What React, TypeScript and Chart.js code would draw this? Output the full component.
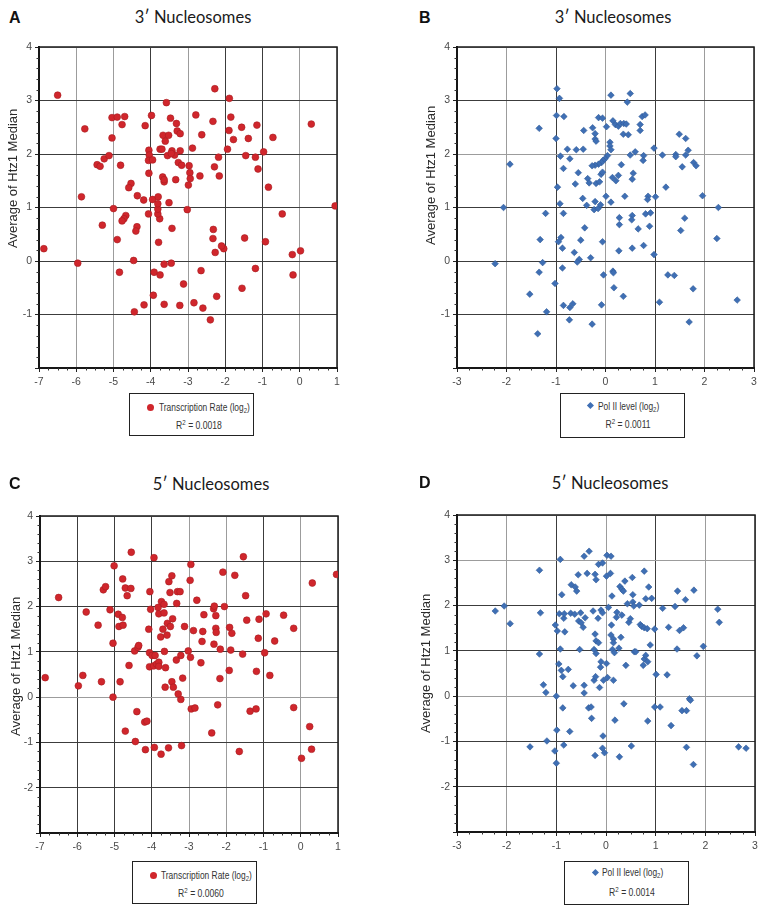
import React, { useEffect, useRef } from 'react';
import { Chart, registerables } from 'chart.js';

Chart.register(...registerables);

// ---------------- DATA ----------------
// Panel A: 3' nucleosomes vs transcription rate
const aX = [
  -6.87, -6.5, -5.77, -5.86, -5.96, -5.44, -5.36, -5.25, -5.12, -5.04,
  -4.9, -4.7, -4.77, -5.04, -4.81, -5.0, -5.3, -4.9, -4.84, -4.53,
  -4.59, -4.67, -4.72, -4.77, -4.37, -4.4, -4.36, -4.19, -4.15, -3.98,
  -4.05, -4.04, -4.06, -3.95, -4.05, -3.95, -4.06, -4.46, -4.44, -4.18,
  -3.93, -3.91, -3.75, -3.64, -3.64, -3.45, -3.22, -3.12, -2.84, -2.6,
  -2.4, -2.23, -2.65, -1.55, -1.19, -0.18, -0.2, 0.02, -0.92, -1.48,
  -2.04, -2.1, -2.27, -2.33, -2.32, -3.43, -3.79, -3.76, -3.81, -3.81,
  -3.81, -3.8, -3.51, -3.02, -0.47, 0.95, -0.84, -1.12, -1.19, -1.45,
  -0.97, -0.72, -1.38, -1.56, -1.15, -1.78, -1.9, -1.85, -1.89, -2.28,
  -2.33, -1.94, -2.18, -2.29, -2.16, -2.68, -2.63, -2.79, -2.88, -2.97,
  -2.95, -2.94, -2.99, 0.31, -3.58, -3.47, -3.31, -3.29, -3.21, -3.67,
  -3.52, -3.61, -3.75, -3.7, -3.55, -3.43, -3.36, -3.21, -3.45, -3.26,
  -3.17, -3.33, -3.68, -3.64, -3.64,
];
const aY = [
  0.23, 3.1, 2.47, 1.2, -0.04, 1.8, 1.77, 1.91, 1.97, 2.68,
  2.69, 2.7, 2.55, 2.3, 1.79, 0.98, 0.67, 0.4, -0.21, 1.45,
  1.37, 0.85, 0.79, 0.75, 0.64, 0.56, 1.22, 1.14, 2.53, 2.72,
  2.07, 1.98, 1.88, 1.89, 1.64, 1.15, 0.88, 0.01, -0.95, -0.82,
  -0.64, -0.21, -0.26, -0.06, -0.81, -0.04, -0.83, -0.43, -0.78, -0.88,
  -1.1, -0.66, -0.18, -0.51, -0.14, -0.26, 0.12, 0.19, 0.36, 0.43,
  0.23, 0.28, 0.16, 0.42, 0.59, 0.61, 0.35, 0.79, 0.88, 0.97,
  1.07, 1.2, 1.09, 0.96, 0.88, 1.03, 1.38, 1.72, 1.94, 1.97,
  2.04, 2.31, 2.29, 2.5, 2.54, 2.27, 2.44, 2.69, 3.04, 3.22,
  2.61, 2.09, 1.94, 1.76, 1.59, 1.59, 2.36, 2.73, 2.11, 1.78,
  1.65, 1.54, 1.42, 2.56, 2.96, 2.67, 2.57, 2.43, 2.38, 2.35,
  2.35, 2.24, 2.09, 2.09, 1.97, 2.06, 1.98, 2.06, 2.01, 1.84,
  1.79, 1.52, 1.57, 1.48, 1.52,
];

// Panel B: 3' nucleosomes vs Pol II level
const bX = [
  -2.23, -2.06, -1.93, -1.34, -1.21, -1.32, -1.27, -1.34, -1.53, -1.19,
  -1.37, -0.98, -0.93, -0.99, -0.84, -1.0, -0.77, -0.91, -0.72, -0.85,
  -0.97, -0.92, -0.85, -0.9, -0.95, -0.87, -1.02, -0.87, -0.85, -0.72,
  -0.66, -0.73, -0.59, -0.45, -0.44, -0.55, -0.61, -0.46, -0.38, -0.42,
  -0.5, -0.63, -0.53, -0.57, -0.3, -0.27, -0.08, -0.04, -0.06, -0.36,
  -0.33, -0.26, -0.21, -0.21, -0.19, -0.14, -0.06, 0.02, 0.11, 0.09,
  0.09, 0.11, 0.04, -0.01, -0.05, -0.08, -0.14, -0.21, -0.27, -0.19,
  -0.12, -0.09, -0.06, 0.01, -0.23, -0.15, -0.1, -0.21, 0.11, 0.14,
  0.21, 0.26, 0.32, 0.15, 0.2, 0.26, 0.3, 0.37, 0.42, 0.36,
  0.46, 0.44, 0.5, 0.5, 0.6, 0.56, 0.54, 0.54, 0.53, 0.66,
  0.54, 0.28, 0.28, 0.27, 0.39, 0.15, 0.16, 0.17, 0.36, 0.7,
  0.7, 0.74, 0.8, 0.77, 0.76, 0.98, 1.15, 1.22, 1.01, 0.86,
  0.85, 0.81, 0.91, 0.89, 0.77, 0.98, 1.09, 1.26, 1.39, 1.42,
  1.42, 1.49, 1.62, 1.55, 1.62, 1.67, 1.78, 1.83, 1.96, 1.6,
  1.52, 2.28, 2.25, 1.77, 1.69, 2.66,
];
const bY = [
  -0.05, 1.0, 1.81, 2.48, 0.89, 0.4, -0.03, -0.21, -0.62, -0.95,
  -1.36, 3.22, 3.04, 2.72, 2.7, 2.29, 2.09, 1.96, 1.91, 1.73,
  1.38, 1.07, 0.89, 0.44, 0.36, 0.24, -0.42, -0.13, -0.83, -0.87,
  -0.8, -1.1, 2.08, 2.09, 2.44, 1.65, 1.44, 1.17, 1.04, 0.62,
  0.39, 0.16, 0.03, -0.02, 0.06, -1.18, -0.82, -0.26, 0.36, 1.54,
  1.46, 2.49, 2.38, 2.28, 2.24, 2.68, 2.67, 2.51, 3.1, 2.22,
  2.15, 2.08, 1.97, 1.91, 1.88, 1.84, 1.81, 1.79, 1.78, 1.45,
  1.48, 1.62, 1.66, 1.21, 0.96, 0.98, 1.05, 1.11, 1.1, 1.56,
  1.5, 1.6, 1.8, 2.62, 2.55, 2.52, 2.57, 2.57, 2.56, 2.37,
  2.36, 2.97, 3.13, 1.98, 2.04, 1.64, 1.53, 0.85, 0.77, 0.6,
  0.24, 0.81, 0.68, 0.19, 1.21, -0.19, -0.22, -0.5, -0.66, 2.55,
  2.44, 2.7, 2.73, 1.97, 1.88, 2.11, 1.98, 1.38, 1.2, 1.21,
  1.15, 0.88, 0.9, 0.65, 0.29, 0.12, -0.77, -0.26, -0.27, 1.99,
  1.95, 2.37, 2.29, 1.76, 1.98, 2.07, 1.84, 1.78, 1.22, 0.8,
  0.57, 1.0, 0.42, -0.52, -1.14, -0.73,
];

// Panel C: 5' nucleosomes vs transcription rate
const cX = [
  -6.86, -6.5, -5.85, -5.97, -5.76, -5.44, -5.35, -5.3, -5.24, -5.12,
  -5.01, -5.04, -5.04, -4.9, -4.79, -4.88, -4.77, -4.78, -4.71, -4.66,
  -4.55, -4.56, -4.61, -4.85, -4.71, -4.44, -4.46, -4.37, -4.35, -4.4,
  -4.19, -4.13, -4.17, -3.94, -4.05, -4.03, -4.08, -4.06, -3.99, -3.91,
  -4.06, -3.95, -3.87, -3.81, -3.81, -3.66, -3.63, -3.64, -3.93, -3.75,
  -3.55, -3.2, -3.22, -3.29, -3.46, -3.42, -3.17, -3.22, -3.34, -3.02,
  -2.96, -3.12, -2.88, -3.83, -3.81, -3.74, -3.67, -3.67, -3.76, -3.7,
  -3.58, -3.59, -3.5, -3.44, -3.54, -3.46, -3.51, -3.33, -3.31, -3.24,
  -2.95, -2.97, -2.79, -2.6, -2.63, -2.65, -2.68, -2.94, -2.84, -2.34,
  -2.32, -2.28, -2.28, -2.27, -2.33, -2.16, -2.17, -2.23, -2.39, -2.09,
  -2.05, -1.91, -1.85, -1.88, -1.92, -1.65, -1.77, -1.54, -1.48, -1.45,
  -1.56, -1.36, -1.2, -1.19, -1.14, -1.12, -0.93, -0.97, -0.83, -0.7,
  -0.46, -0.19, -0.19, 0.02, 0.24, 0.29, 0.31, 0.96,
];
const cY = [
  0.43, 2.2, 0.48, 0.25, 1.88, 1.59, 0.34, 2.37, 2.44, 1.93,
  2.9, 1.19, 0.0, 1.83, 1.76, 1.56, 1.59, 2.61, 2.41, 2.24,
  3.2, 2.4, 0.7, 0.34, -0.75, -0.98, 1.02, 1.1, 1.14, -0.32,
  -0.55, -0.53, -1.16, 3.08, 2.33, 1.94, 1.5, 0.98, 0.92, 0.92,
  0.67, 0.69, 0.73, 0.77, 0.68, 1.01, 0.65, 0.22, -1.11, -1.26,
  -1.12, -1.07, -0.05, 0.07, 0.34, 0.22, 0.42, 0.92, 0.82, 1.02,
  0.88, 1.56, 1.47, 1.98, 1.84, 2.11, 2.05, 1.86, 1.33, 1.5,
  1.63, 1.37, 1.56, 1.73, 2.55, 2.68, 2.31, 2.07, 2.33, 2.33,
  2.93, 2.58, 2.14, 1.82, 1.45, 1.23, 0.76, -0.26, -0.24, 1.95,
  2.01, 1.8, 1.52, 1.43, 1.17, 1.06, 0.41, -0.17, -0.79, 2.76,
  2.0, 1.54, 1.41, 1.04, 0.59, -1.2, 2.69, 3.1, 2.24, 1.7,
  0.95, -0.31, -0.26, 0.57, 1.3, 1.72, 1.84, 0.98, 0.48, 1.24,
  1.81, 1.52, -0.23, -1.35, -0.65, -1.15, 2.52, 2.71,
];

// Panel D: 5' nucleosomes vs Pol II level
const dX = [
  -2.23, -2.05, -1.93, -1.53, -1.34, -1.32, -1.34, -1.26, -1.21, -1.19,
  -1.03, -1.0, -0.99, -1.0, -1.02, -0.98, -0.94, -0.92, -0.89, -0.85,
  -0.84, -0.83, -0.92, -0.95, -0.9, -0.87, -0.87, -0.85, -0.73, -0.76,
  -0.66, -0.7, -0.62, -0.59, -0.56, -0.71, -0.63, -0.51, -0.55, -0.5,
  -0.46, -0.42, -0.53, -0.44, -0.38, -0.34, -0.44, -0.44, -0.35, -0.3,
  -0.29, -0.26, -0.24, -0.21, -0.24, -0.2, -0.22, -0.2, -0.15, -0.22,
  -0.2, -0.15, -0.07, -0.16, -0.1, -0.07, -0.1, -0.11, -0.13, -0.05,
  0.01, 0.03, -0.06, -0.07, -0.03, -0.22, 0.02, 0.1, 0.01, 0.09,
  0.12, 0.05, 0.11, 0.1, 0.15, 0.15, 0.13, 0.17, 0.15, 0.27,
  0.18, 0.22, 0.21, 0.26, 0.3, 0.28, 0.32, 0.35, 0.32, 0.38,
  0.4, 0.36, 0.43, 0.46, 0.49, 0.51, 0.53, 0.54, 0.54, 0.56,
  0.57, 0.6, 0.67, 0.69, 0.72, 0.77, 0.83, 0.77, 0.8, 0.86,
  0.92, 0.75, 0.77, 0.8, 0.84, 0.89, 0.84, 0.98, 1.01, 0.98,
  1.09, 1.14, 1.26, 1.23, 1.31, 1.39, 1.44, 1.43, 1.48, 1.53,
  1.56, 1.6, 1.62, 1.62, 1.68, 1.7, 1.77, 1.76, 1.83, 1.96,
  2.25, 2.28, 2.67, 2.82,
];
const dY = [
  1.88, 1.99, 1.6, -1.12, 2.78, 1.84, 0.93, 0.25, 0.08, -0.99,
  -1.21, -1.48, -0.75, 0.0, 1.57, 1.44, 1.82, 3.02, 2.24, 1.72,
  1.82, 1.42, 1.04, 0.71, 0.57, 0.43, -0.26, -1.08, -0.78, 0.59,
  0.23, 2.46, 2.41, 2.32, 2.68, 1.83, 1.81, 1.84, 1.66, 1.62,
  1.52, 1.73, 1.03, 3.09, 2.71, 3.2, 0.24, 0.07, -0.26, -0.24,
  -0.49, 1.88, 0.35, 0.43, 1.03, 0.94, 1.37, 1.22, 1.18, 2.69,
  2.57, 2.91, 2.94, 1.72, 1.9, 1.84, 0.76, 0.64, 0.19, 0.35,
  0.72, 0.41, -0.88, -1.15, -1.25, -1.31, 3.11, 3.09, 2.65, 2.71,
  2.21, 1.96, 1.57, 1.35, 1.26, 1.18, 1.03, 0.96, 0.35, -1.34,
  -0.53, 1.85, 1.74, 1.06, 1.3, 2.42, 2.36, 2.32, 1.79, 2.54,
  0.68, -0.17, 2.04, 1.63, 1.71, -1.1, 2.62, 2.24, 2.08, 1.99,
  0.98, 0.98, 2.01, 1.58, 1.54, 1.51, 1.49, 2.76, 2.15, 2.41,
  2.16, 0.68, 0.82, 0.9, 0.76, 1.13, -0.55, 1.48, 0.48, -0.24,
  -0.24, 1.94, 1.52, 0.47, -0.65, 1.98, 2.32, 1.04, 1.45, -0.32,
  1.51, 2.13, -0.32, -1.13, -0.06, -0.09, 2.34, -1.51, 0.89, 1.1,
  1.92, 1.63, -1.12, -1.15,
];

// Axis tick values
const xTicksRate = [-7, -6, -5, -4, -3, -2, -1, 0, 1];
const xTicksPol = [-3, -2, -1, 0, 1, 2, 3];
const yTicks3 = [-2, -1, 0, 1, 2, 3, 4];
const yTicks5 = [-3, -2, -1, 0, 1, 2, 3, 4];

// Texts
const titles = ['3\u2032 Nucleosomes', '3\u2032 Nucleosomes', '5\u2032 Nucleosomes', '5\u2032 Nucleosomes'];
const letters = ['A', 'B', 'C', 'D'];
const legendNames = ['Transcription Rate (log', 'Pol II level (log', 'Transcription Rate (log', 'Pol II level (log'];
const rSquared = ['0.0018', '0.0011', '0.0060', '0.0014'];
const yTitle = 'Average of Htz1 Median';

// ---------------- STYLE ----------------
const RED = '#d0262c';
const RED_EDGE = '#a81c20';
const BLUE = '#3f6fb4';
const BLUE_EDGE = '#2f5a99';
const DARK = '#3c3c3c';
const LIGHT = '#9c9c9c';
const TICK_FONT = "'Liberation Sans', Arial, Helvetica, sans-serif";

const Y_AXIS_W = 38;
const PAD_TOP = 12;
const PAD_RIGHT = 14;
const X_AXIS_H = 24;

type PanelCfg = {
  xs: number[];
  ys: number[];
  xTicks: number[];
  yTicks: number[];
  red: boolean;
  plot: { l: number; t: number; r: number; b: number };
  darkX: number[];
  darkY: number[];
};

const panels: PanelCfg[] = [
  { xs: aX, ys: aY, xTicks: xTicksRate, yTicks: yTicks3, red: true,
    plot: { l: 39, t: 47, r: 337, b: 368 }, darkX: [-4, -2, -1], darkY: [3, 2, 1, 0, -1] },
  { xs: bX, ys: bY, xTicks: xTicksPol, yTicks: yTicks3, red: false,
    plot: { l: 457, t: 47, r: 754, b: 368 }, darkX: [-1, 1], darkY: [3, 1, 0, -1] },
  { xs: cX, ys: cY, xTicks: xTicksRate, yTicks: yTicks5, red: true,
    plot: { l: 40, t: 516, r: 338, b: 833 }, darkX: [-6, -5, -4, -1], darkY: [3, 2, 1, -1, -2] },
  { xs: dX, ys: dY, xTicks: xTicksPol, yTicks: yTicks5, red: false,
    plot: { l: 457, t: 515, r: 755, b: 832 }, darkX: [-1, 1], darkY: [2, 1, -1, -2] },
];

const framePlugin = {
  id: 'frameAndMinor',
  beforeDatasetsDraw(chart: any) {
    const { ctx, chartArea: a, scales } = chart;
    ctx.save();
    ctx.strokeStyle = '#1a1a1a';
    ctx.lineWidth = 1.5;
    ctx.strokeRect(a.left, a.top, a.right - a.left, a.bottom - a.top);
    // minor ticks
    ctx.lineWidth = 1;
    ctx.strokeStyle = '#333';
    const ys = scales.y;
    for (let v = ys.min; v < ys.max - 1e-9; v += 0.2) {
      if (Math.abs(v - Math.round(v)) < 1e-6) continue;
      const p = Math.round(ys.getPixelForValue(v)) + 0.5;
      ctx.beginPath();
      ctx.moveTo(a.left - 2.5, p);
      ctx.lineTo(a.left, p);
      ctx.stroke();
    }
    const xs = scales.x;
    for (let v = xs.min; v < xs.max - 1e-9; v += 0.25) {
      if (Math.abs(v - Math.round(v)) < 1e-6) continue;
      const p = Math.round(xs.getPixelForValue(v)) + 0.5;
      ctx.beginPath();
      ctx.moveTo(p, a.bottom);
      ctx.lineTo(p, a.bottom + 2.5);
      ctx.stroke();
    }
    ctx.restore();
  },
};

function ScatterPanel({ cfg }: { cfg: PanelCfg }) {
  const ref = useRef<HTMLCanvasElement>(null);
  const left = cfg.plot.l - Y_AXIS_W;
  const top = cfg.plot.t - PAD_TOP;
  const width = cfg.plot.r - left + PAD_RIGHT;
  const height = cfg.plot.b - top + X_AXIS_H;

  useEffect(() => {
    if (!ref.current) return;
    const pts = cfg.xs.map((x, i) => ({ x, y: cfg.ys[i] }));
    const xMin = cfg.xTicks[0];
    const xMax = cfg.xTicks[cfg.xTicks.length - 1];
    const yMin = cfg.yTicks[0];
    const yMax = cfg.yTicks[cfg.yTicks.length - 1];
    const chart = new Chart(ref.current, {
      type: 'scatter',
      data: {
        datasets: [
          {
            data: pts,
            pointStyle: cfg.red ? 'circle' : 'rectRot',
            pointRadius: cfg.red ? 3.4 : 3.3,
            backgroundColor: cfg.red ? RED : BLUE,
            borderColor: cfg.red ? RED_EDGE : BLUE_EDGE,
            borderWidth: 0.6,
          },
        ],
      },
      options: {
        animation: false,
        responsive: false,
        maintainAspectRatio: false,
        layout: { padding: { top: PAD_TOP, right: PAD_RIGHT, left: 0, bottom: 0 } },
        plugins: { legend: { display: false }, tooltip: { enabled: false }, title: { display: false } },
        scales: {
          x: {
            type: 'linear',
            min: xMin,
            max: xMax,
            afterBuildTicks: (axis: any) => {
              axis.ticks = cfg.xTicks.map((v) => ({ value: v }));
            },
            afterFit: (axis: any) => {
              axis.height = X_AXIS_H;
            },
            grid: {
              color: (c: any) => (cfg.darkX.includes(c.tick?.value) ? DARK : LIGHT),
              lineWidth: 1,
              tickLength: 4,
              tickColor: '#222',
            },
            border: { color: '#111', width: 2 },
            ticks: {
              color: '#4a4a4a',
              font: { family: TICK_FONT, size: 10.5 },
              padding: 4,
              maxRotation: 0,
              autoSkip: false,
              callback: (v: any) => String(v),
            },
          },
          y: {
            type: 'linear',
            min: yMin,
            max: yMax,
            afterBuildTicks: (axis: any) => {
              axis.ticks = cfg.yTicks.map((v) => ({ value: v }));
            },
            afterFit: (axis: any) => {
              axis.width = Y_AXIS_W;
            },
            grid: {
              color: (c: any) => (cfg.darkY.includes(c.tick?.value) ? DARK : LIGHT),
              lineWidth: 1,
              tickLength: 4,
              tickColor: '#222',
            },
            border: { color: '#111', width: 2 },
            ticks: {
              color: '#4a4a4a',
              font: { family: TICK_FONT, size: 10.5 },
              padding: 3,
              autoSkip: false,
              callback: (v: any) => (v === yMin ? '' : String(v)),
            },
          },
        },
      },
      plugins: [framePlugin],
    });
    return () => chart.destroy();
  }, [cfg]);

  return (
    <canvas
      ref={ref}
      width={width}
      height={height}
      style={{ position: 'absolute', left, top, width, height }}
    />
  );
}

type TextPos = { x: number; y: number };
const letterPos: TextPos[] = [
  { x: 9, y: 18 }, { x: 419, y: 18 }, { x: 9, y: 484 }, { x: 419, y: 483 },
];
const titlePos: TextPos[] = [
  { x: 193, y: 17 }, { x: 613, y: 17 }, { x: 211, y: 484 }, { x: 610, y: 483 },
];
// centre of the vertical axis title
const yTitlePos: TextPos[] = [
  { x: 13, y: 178 }, { x: 431, y: 175 }, { x: 16, y: 666 }, { x: 426, y: 663 },
];
type LegendPos = { l: number; t: number; w: number; h: number; mx: number; my: number; tx: number; ty: number; rx: number; ry: number };
const legendPos: LegendPos[] = [
  { l: 129, t: 393, w: 125, h: 43, mx: 20.7, my: 13, tx: 29, ty: 14, rx: 69, ry: 31 },
  { l: 560, t: 393, w: 125, h: 45, mx: 29.7, my: 11, tx: 37, ty: 12.5, rx: 67, ry: 30 },
  { l: 132, t: 861, w: 125, h: 43, mx: 20.7, my: 13, tx: 28, ty: 13.7, rx: 68, ry: 31 },
  { l: 564, t: 861, w: 125, h: 44, mx: 30.3, my: 10.7, tx: 37, ty: 11, rx: 67, ry: 29.7 },
];

function Legend({ i }: { i: number }) {
  const p = legendPos[i];
  const red = panels[i].red;
  const txt: React.CSSProperties = {
    position: 'absolute',
    fontFamily: TICK_FONT,
    fontSize: 10.5,
    color: '#333',
    whiteSpace: 'nowrap',
    lineHeight: 1,
  };
  return (
    <div
      style={{
        position: 'absolute',
        left: p.l,
        top: p.t,
        width: p.w,
        height: p.h,
        boxSizing: 'border-box',
        border: '1.5px solid #222',
        background: '#fff',
      }}
    >
      {red ? (
        <div
          style={{
            position: 'absolute',
            left: p.mx - 3.5,
            top: p.my - 3.5,
            width: 7,
            height: 7,
            borderRadius: '50%',
            background: RED,
          }}
        />
      ) : (
        <div
          style={{
            position: 'absolute',
            left: p.mx - 2.4,
            top: p.my - 2.4,
            width: 4.8,
            height: 4.8,
            transform: 'rotate(45deg)',
            background: BLUE,
          }}
        />
      )}
      <div
        style={{
          ...txt,
          left: p.tx,
          top: p.ty,
          transform: 'translateY(-50%) scaleX(0.8)',
          transformOrigin: 'left center',
        }}
      >
        {legendNames[i]}
        <sub style={{ fontSize: 7.5, verticalAlign: -2.5 }}>2</sub>)
      </div>
      <div
        style={{
          ...txt,
          left: p.rx - 40,
          width: 80,
          textAlign: 'center',
          top: p.ry - 6,
          transform: 'scaleX(0.82)',
          transformOrigin: 'center center',
        }}
      >
        R<sup style={{ fontSize: 7.5, verticalAlign: 4 }}>2</sup> = {rSquared[i]}
      </div>
    </div>
  );
}

export default function App() {
  return (
    <div
      style={{
        position: 'absolute',
        left: 0,
        top: 0,
        width: 769,
        height: 912,
        overflow: 'hidden',
        background: '#fff',
      }}
    >
      {panels.map((cfg, i) => (
        <React.Fragment key={i}>
          <ScatterPanel cfg={cfg} />
          <div
            style={{
              position: 'absolute',
              left: letterPos[i].x,
              top: letterPos[i].y - 8,
              fontFamily: "'Liberation Sans', Arial, sans-serif",
              fontWeight: 'bold',
              fontSize: 16,
              lineHeight: '16px',
              color: '#111',
            }}
          >
            {letters[i]}
          </div>
          <div
            style={{
              position: 'absolute',
              left: titlePos[i].x - 100,
              width: 200,
              textAlign: 'center',
              top: titlePos[i].y - 10,
              fontFamily: "Lato, 'Open Sans', sans-serif",
              fontSize: 16.5,
              lineHeight: '20px',
              color: '#1a1a1a',
              whiteSpace: 'nowrap',
            }}
          >
            {titles[i]}
          </div>
          <div
            style={{
              position: 'absolute',
              left: yTitlePos[i].x - 8,
              top: yTitlePos[i].y - 90,
              width: 16,
              height: 180,
              writingMode: 'vertical-rl',
              transform: 'rotate(180deg)',
              textAlign: 'center',
              fontFamily: "'Liberation Sans', Arial, sans-serif",
              fontSize: 13,
              lineHeight: '16px',
              color: '#2a2a2a',
              whiteSpace: 'nowrap',
            }}
          >
            {yTitle}
          </div>
          <Legend i={i} />
        </React.Fragment>
      ))}
    </div>
  );
}
